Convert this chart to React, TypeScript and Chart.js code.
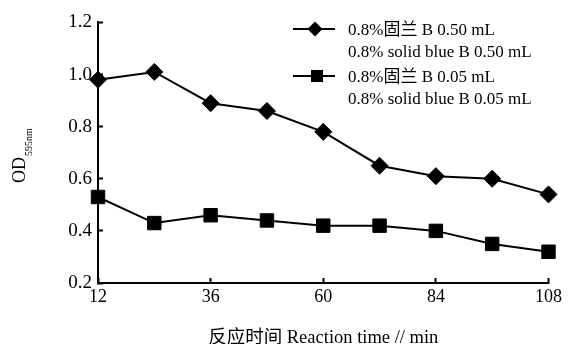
import React, { useEffect, useRef } from 'react';
import { Chart, registerables } from 'chart.js';

Chart.register(...registerables);

const times = [12, 24, 36, 48, 60, 72, 84, 96, 108];
const highDose = [0.98, 1.01, 0.89, 0.86, 0.78, 0.65, 0.61, 0.6, 0.54];
const lowDose = [0.53, 0.43, 0.46, 0.44, 0.42, 0.42, 0.4, 0.35, 0.32];
const highLabel = ['0.8%固兰 B 0.50 mL', '0.8% solid blue B 0.50 mL'];
const lowLabel = ['0.8%固兰 B 0.05 mL', '0.8% solid blue B 0.05 mL'];
const xTicks = [12, 36, 60, 84, 108];
const yTicks = [0.2, 0.4, 0.6, 0.8, 1.0, 1.2];
const xTitle = '反应时间 Reaction time // min';
const yTitleMain = 'OD';
const yTitleSub = '595nm';

const FONT = "'Liberation Serif', 'Noto Sans CJK SC', serif";

const legendPlugin = {
  id: 'customLegend',
  afterDraw(chart: any) {
    const ctx = chart.ctx;
    ctx.save();
    const entries = [
      { y: 29, style: 'diamond', mx: 315, r: 7.5 },
      { y: 76, style: 'square', mx: 317, r: 6 },
    ];
    chart.data.datasets.forEach((ds: any, i: number) => {
      const e = entries[i];
      ctx.strokeStyle = '#000';
      ctx.fillStyle = '#000';
      ctx.lineWidth = 2;
      ctx.beginPath();
      ctx.moveTo(293, e.y);
      ctx.lineTo(335, e.y);
      ctx.stroke();
      ctx.beginPath();
      if (e.style === 'diamond') {
        ctx.moveTo(e.mx - e.r, e.y);
        ctx.lineTo(e.mx, e.y - e.r);
        ctx.lineTo(e.mx + e.r, e.y);
        ctx.lineTo(e.mx, e.y + e.r);
        ctx.closePath();
      } else {
        ctx.rect(e.mx - e.r, e.y - e.r, 2 * e.r, 2 * e.r);
      }
      ctx.fill();
      ctx.font = `17px ${FONT}`;
      ctx.textBaseline = 'middle';
      ctx.textAlign = 'left';
      const lines: string[] = ds.label;
      lines.forEach((t, j) => {
        ctx.fillText(t, 348, e.y + 1.5 + j * 22);
      });
    });
    ctx.restore();
  },
};

const yTitlePlugin = {
  id: 'yTitle',
  afterDraw(chart: any) {
    const ctx = chart.ctx;
    ctx.save();
    ctx.translate(22, 157);
    ctx.rotate(-Math.PI / 2);
    ctx.fillStyle = '#000';
    ctx.textBaseline = 'alphabetic';
    ctx.font = `18px ${FONT}`;
    ctx.textAlign = 'right';
    ctx.fillText(yTitleMain, 0, 3);
    ctx.font = `10px ${FONT}`;
    ctx.textAlign = 'left';
    ctx.fillText(yTitleSub, 1, 10);
    ctx.restore();
  },
};

export default function App() {
  const canvasRef = useRef<HTMLCanvasElement | null>(null);

  useEffect(() => {
    if (!canvasRef.current) return;
    const chart = new Chart(canvasRef.current, {
      type: 'line',
      data: {
        datasets: [
          {
            label: highLabel as any,
            data: times.map((t, i) => ({ x: t, y: highDose[i] })),
            borderColor: '#000',
            backgroundColor: '#000',
            borderWidth: 2,
            pointStyle: 'rectRot',
            pointRadius: 8.5,
            pointBorderWidth: 1,
            tension: 0,
            clip: false as any,
          },
          {
            label: lowLabel as any,
            data: times.map((t, i) => ({ x: t, y: lowDose[i] })),
            borderColor: '#000',
            backgroundColor: '#000',
            borderWidth: 2,
            pointStyle: 'rect',
            pointRadius: 9.5,
            pointBorderWidth: 1,
            tension: 0,
            clip: false as any,
          },
        ],
      },
      options: {
        animation: false,
        responsive: true,
        maintainAspectRatio: false,
        layout: { padding: { left: 0, top: 20, right: 18, bottom: 0 } },
        plugins: {
          legend: { display: false },
          tooltip: { enabled: false },
        },
        scales: {
          x: {
            type: 'linear',
            min: 12,
            max: 108,
            afterBuildTicks: (s: any) => {
              s.ticks = xTicks.map((v) => ({ value: v }));
            },
            afterFit: (s: any) => {
              s.height = 61;
            },
            grid: {
              display: true,
              drawOnChartArea: false,
              drawTicks: true,
              tickLength: -5,
              tickWidth: 2,
              tickColor: '#000',
            },
            border: { display: true, color: '#000', width: 2 },
            ticks: {
              color: '#000',
              padding: 8,
              font: { family: FONT, size: 18 },
              maxRotation: 0,
              callback: (v: any) => String(v),
            },
            title: {
              display: true,
              text: xTitle,
              color: '#000',
              font: { family: FONT, size: 18.5, lineHeight: 1 },
              padding: { top: 0, bottom: -3 },
            },
          },
          y: {
            type: 'linear',
            min: 0.2,
            max: 1.2,
            afterBuildTicks: (s: any) => {
              s.ticks = yTicks.map((v) => ({ value: v }));
            },
            afterFit: (s: any) => {
              s.width = 98;
            },
            grid: {
              display: true,
              drawOnChartArea: false,
              drawTicks: true,
              tickLength: -5,
              tickWidth: 2,
              tickColor: '#000',
            },
            border: { display: true, color: '#000', width: 2 },
            ticks: {
              color: '#000',
              padding: 11,
              font: { family: FONT, size: 19 },
              callback: (v: any) => Number(v).toFixed(1),
            },
          },
        },
      },
      plugins: [legendPlugin, yTitlePlugin],
    } as any);
    return () => chart.destroy();
  }, []);

  return (
    <div style={{ position: 'fixed', left: 0, top: 0, width: 570, height: 344, background: '#fff' }}>
      <canvas ref={canvasRef} style={{ width: '100%', height: '100%' }} />
    </div>
  );
}
